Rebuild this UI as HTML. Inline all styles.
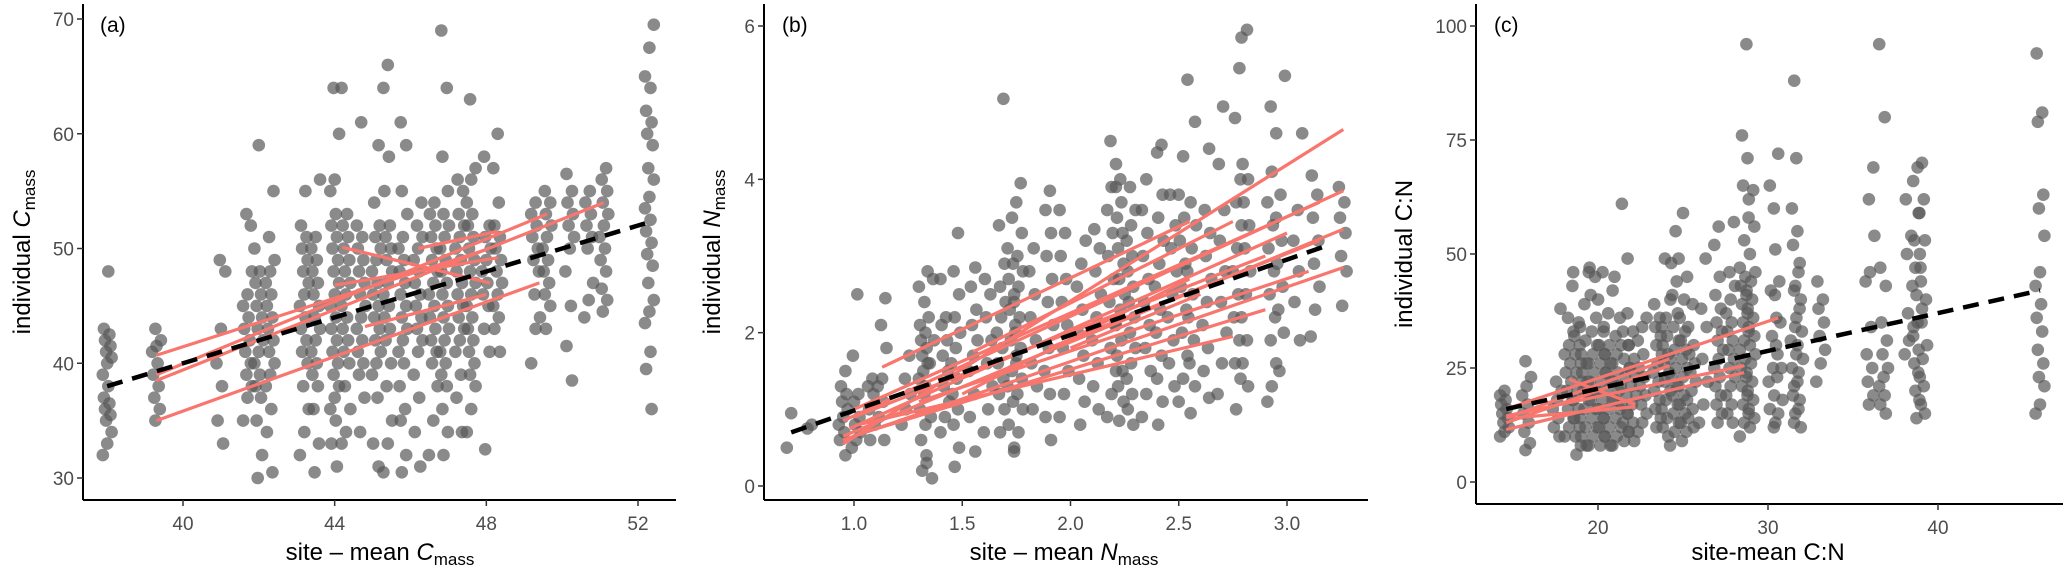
<!DOCTYPE html>
<html><head><meta charset="utf-8"><style>
body{margin:0;background:#fff}
svg{display:block;font-family:"Liberation Sans",Arial,sans-serif}
</style></head><body>
<svg id="chart" width="2067" height="566" viewBox="0 0 2067 566" xmlns="http://www.w3.org/2000/svg"></svg>
<script>
// ---------- Panel (a) data ----------
const aSiteX=[38.0,39.3,41.0,41.7,42.0,42.3,43.2,43.5,44.0,44.3,44.7,45.1,45.4,45.8,46.2,46.6,46.9,47.3,47.6,48.0,48.3,49.3,49.6,50.2,50.7,51.1,52.3];
const aSiteY=[[32,33,34,35,35.5,36,36.5,37,38,39,40,40.5,41,41.5,42,42.5,43,48],[35,36,37,38,39,40,41,41.5,42,43],[33,35,38,40,43,48,49],[35,37,38,39,40,41,42,43,44,45,46,48,53,52],[30,32,35,37,38,39,40,41,42,43,44,45,46,47,48,50,59],[30.5,34,36,38,39,40,41,42,43,44,45,46,47,48,49,51,55],[32,34,36,38,40,41,42,43,44,45,46,47,48,49,50,51,52,55],[30.5,33,36,38,39,40,41,42,43,44,45,46,47,48,49,50,51,56],[31,33,35,36,37,38,39,40,41,42,43,44,45,46,47,48,49,50,51,52,53,55,56,60,64],[33,34,36,38,40,41,42,43,44,45,46,47,48,49,50,51,52,53,64],[34,37,39,40,41,42,43,44,45,46,47,48,49,50,51,52,61],[31,33,37,39,40,41,42,43,44,45,46,47,48,49,50,51,52,54,59],[30.5,33,35,38,40,42,43,44,45,46,47,48,49,50,51,52,55,58,64,66],[30.5,32,35,36,38,40,41,42,43,44,45,46,47,48,49,50,51,53,55,59,61],[31,34,37,39,41,42,43,44,45,46,47,48,49,50,51,52,54],[32,35,38,40,41,42,43,44,45,46,47,48,49,50,51,52,53,54],[32,34,36,38,39,40,41,42,43,44,45,46,47,48,49,50,51,52,53,55,58,64,69],[34,37,39,41,42,43,44,45,46,47,48,49,50,51,52,53,55,56],[34,36,38,39,40,41,42,43,44,45,46,47,48,49,50,51,52,53,54,56,57,63],[32.5,41,43,45,46,47,48,49,50,51,52,58],[41,43,44,45,46,47,48,49,50,51,52,54,57,60],[40,43,44,46,48,49,50,51,52,53,54],[43,45,46,47,48,49,50,51,52,53,54,55],[38.5,41.5,45,48,50,51,52,53,54,55,56.5],[44,45.5,47,50,51,52,53,54,55],[44.5,45.5,46.5,48,49,50,51,52,53,54,55,56,57],[36,39.5,41,43.5,44.5,45.5,47,48.5,49.5,50.5,51.5,52.5,53.5,54.5,56,57,59,60,61,62,64,65,67.5,69.5]];
const aLines=[[39.3,40.7,48.0,49.9],[39.3,39.0,49.6,53.0],[39.3,38.5,51.1,54.0],[39.3,35.0,49.4,47.0],[44.2,50.1,48.1,47.0],[44.0,46.8,48.3,49.2],[44.8,43.2,48.0,46.0],[46.2,50.0,48.3,51.5]];
const aFit=[38.0,38.0,52.3,52.3];
const aXTicks=[40,44,48,52];
const aYTicks=[30,40,50,60,70];
// ---------- Panel (b) data ----------
const bSiteX=[0.71,0.79,0.95,1.01,1.08,1.13,1.24,1.32,1.35,1.42,1.47,1.55,1.62,1.68,1.73,1.76,1.83,1.90,1.97,2.05,2.12,2.19,2.23,2.28,2.35,2.41,2.47,2.52,2.56,2.63,2.70,2.77,2.81,2.93,2.97,3.05,3.13,3.26];
const bSiteY=[[0.5,0.95],[0.75,0.8],[0.4,0.6,0.7,0.8,0.9,1.0,1.1,1.2,1.3,1.5],[0.5,0.6,0.7,0.8,0.9,1.1,1.2,1.7,2.5],[0.6,0.8,1.0,1.2,1.3,1.4],[0.6,0.9,1.1,1.3,1.4,1.8,2.1,2.45],[0.8,1.0,1.2,1.4,1.7],[0.2,0.3,0.6,0.8,1.0,1.2,1.4,1.5,1.6,1.7,1.8,1.9,2.0,2.1,2.4,2.6],[0.1,0.4,0.9,1.3,1.6,1.9,2.2,2.7,2.8],[0.7,0.9,1.1,1.3,1.5,1.7,1.9,2.1,2.2,2.7],[0.25,0.5,0.8,1.0,1.2,1.4,1.6,1.8,2.0,2.2,2.5,2.8,3.3],[0.45,0.9,1.2,1.5,1.7,1.9,2.1,2.3,2.6,2.85],[0.7,1.0,1.3,1.6,1.9,2.2,2.5,2.7],[0.7,1.0,1.2,1.4,1.6,1.8,2.0,2.2,2.4,2.6,2.9,3.4,5.05],[0.5,0.8,1.1,1.3,1.5,1.7,1.9,2.1,2.3,2.5,2.7,2.9,3.1,3.5],[0.45,0.7,1.0,1.2,1.4,1.6,1.8,2.0,2.2,2.4,2.6,2.8,3.0,3.3,3.7,3.95],[1.0,1.3,1.6,1.9,2.2,2.5,2.8,3.1],[0.6,0.9,1.2,1.5,1.8,2.1,2.4,2.7,3.0,3.3,3.6,3.85],[0.9,1.2,1.5,1.8,2.1,2.4,2.7,3.0,3.3,3.6],[0.8,1.1,1.4,1.7,2.0,2.3,2.6,2.9,3.2],[1.0,1.3,1.6,1.9,2.2,2.5,2.8,3.1,3.35],[0.9,1.2,1.5,1.8,2.1,2.4,2.7,3.0,3.3,3.6,3.9,4.2,4.5],[0.85,1.1,1.3,1.5,1.7,1.9,2.1,2.3,2.5,2.7,2.9,3.1,3.3,3.5,3.7,3.9,4.0],[0.8,1.0,1.2,1.4,1.6,1.8,2.0,2.2,2.4,2.6,2.8,3.0,3.2,3.4,3.6,3.9],[0.9,1.2,1.5,1.8,2.1,2.4,2.7,3.0,3.3,3.6,4.0],[0.8,1.1,1.4,1.7,2.0,2.3,2.6,2.9,3.2,3.5,3.8,4.35,4.45],[1.3,1.6,1.9,2.2,2.5,2.8,3.1,3.4,3.8],[1.1,1.4,1.7,2.0,2.3,2.6,2.9,3.2,3.5,3.8,4.3,5.3],[0.95,1.3,1.6,1.9,2.2,2.5,2.8,3.1,3.4,3.7,4.75],[1.15,1.5,1.8,2.1,2.4,2.7,3.0,3.3,3.6,4.4],[1.2,1.6,2.0,2.4,2.8,3.2,3.6,4.2,4.95],[1.0,1.4,1.6,1.9,2.2,2.5,2.8,3.1,3.4,3.7,4.0,4.8,5.45],[1.3,1.6,1.9,2.2,2.5,2.8,3.1,3.4,3.7,4.0,4.2,5.95,5.85],[1.1,1.3,1.6,1.9,2.2,2.5,2.8,3.1,3.4,3.7,4.1,4.6,4.95],[1.5,2.0,2.3,2.6,2.9,3.2,3.5,3.8,5.35],[1.9,2.4,2.8,3.2,3.6,4.6],[1.95,2.3,2.6,2.9,3.2,3.5,3.8,4.05],[2.35,2.8,3.0,3.3,3.5,3.7,3.9]];
const bLines=[[1.13,1.55,2.55,3.45],[0.95,0.55,3.26,4.65],[0.95,0.85,3.26,3.85],[0.95,0.65,3.26,3.35],[0.95,0.6,3.26,2.85],[1.0,1.0,3.15,3.7],[1.02,0.8,2.75,1.95],[1.05,0.7,2.9,2.3],[1.3,1.1,3.1,2.8],[1.55,1.75,2.75,3.45],[1.0,0.9,2.9,3.0],[1.9,1.8,3.15,3.2],[1.5,1.2,2.55,2.7],[2.0,1.8,2.6,2.5],[0.98,0.75,3.0,3.3]];
const bFit=[0.71,0.7,3.2,3.15];
const bXTicks=[1.0,1.5,2.0,2.5,3.0];
const bYTicks=[0,2,4,6];
// ---------- Panel (c) data ----------
const cSiteX=[14.5,15.8,17.6,18.3,18.8,19.2,19.7,20.2,20.6,21.1,21.6,22.0,22.6,23.5,24.0,24.5,25.0,25.5,26.2,27.1,27.8,28.6,29.0,30.3,30.6,31.6,31.8,33.1,36.0,36.8,38.3,38.8,39.1,46.0];
const cSiteY=[[10,11,12,13,14,15,16,17,18,19,20],[7,8.5,11,13,15,17,19,21,23,26.5],[10,12,14,16,18,20,22,38],[10,12,14,16,18,20,22,24,26,28,30,33,36,43],[6,8,10,12,14,16,18,20,22,24,26,28,30,32,35,46],[8,10,12,14,16,18,20,22,24,26,28,31,34,39,46],[8,10,12,14,16,18,20,22,24,26,28,30,33,36,41,45,47],[8,10,12,14,16,18,20,22,24,26,28,30,33,40,46],[8,10,12,14,16,18,20,22,24,26,28,30,34,37,42],[8,10,12,14,16,18,20,22,24,26,28,30,32,36,45],[9,11,13,15,17,19,21,23,25,27,30,33,37,61],[9,11,13,15,17,19,21,23,25,27,30,33,49],[11,13,15,17,19,21,23,25,28,31,34,36],[12,14,16,18,20,22,24,26,28,30,32,34,36,39],[10,12,14,16,18,20,22,24,26,28,30,32,34,36,40,49],[8,11,13,15,17,19,21,23,25,27,29,31,34,37,41,44,48,55],[9,11,13,15,17,19,21,23,25,27,29,31,33,36,40,49,59],[12,14,16,18,20,22,24,26,28,30,34,39,45],[13,17,22,27,34,38,49],[13,15,17,19,21,23,25,27,29,31,33,35,38,41,45,52,56],[13,15,17,19,21,23,25,27,29,31,33,35,37,40,43,46,57],[10,13,15,17,19,21,23,25,27,29,31,33,35,37,39,41,43,45,47,53,58,65,71,76,96],[12,14,16,18,20,22,24,26,28,30,32,34,36,38,40,42,44,46,50,56,62,64],[13,16,19,22,25,28,32,36,42,51,65],[12,15,18,23,25,30,35,41,44,60,72],[13,16,19,22,25,28,31,34,38,42,46,52,55,60,71],[12,15,18,21,24,27,30,33,36,40,43,48,88],[22,26,29,32,35,38,40,44],[17,19,22,25,28,34,44,46,54,62,69],[15,17,19,21,23,25,28,31,35,43,47,80,96],[28,31,34,37,43,50,54,62],[14,17,20,23,26,29,32,35,38,41,44,47,50,53,59,66,69,70],[15,18,21,24,27,30,35,40,47,53,59,62],[15,17,21,23,26,29,33,36,39,43,46,54,60,63,79,81,94]];
const cLines=[[14.6,16.0,30.6,36.0],[14.6,14.0,24.2,27.0],[14.6,13.0,24.2,25.5],[14.6,11.5,28.6,24.0],[14.6,14.5,28.6,25.5],[15.0,14.0,22.2,16.5],[18.3,22.5,22.2,17.0]];
const cFit=[14.6,16.0,46.0,42.0];
const cXTicks=[20,30,40];
const cYTicks=[0,25,50,75,100];

const NS="http://www.w3.org/2000/svg";
const svg=document.getElementById('chart');
function mk(tag,attrs,parent){const e=document.createElementNS(NS,tag);for(const k in attrs)e.setAttribute(k,attrs[k]);(parent||svg).appendChild(e);return e;}

function panel(cfg){
  const g=mk('g',{});
  
  
  const sx=v=>cfg.x0px+(v-cfg.x0)*(cfg.x1px-cfg.x0px)/(cfg.x1-cfg.x0);
  const sy=v=>cfg.y0px+(v-cfg.y0)*(cfg.y1px-cfg.y0px)/(cfg.y1-cfg.y0);
  const pg=mk('g',{},g);
  
  
  cfg.siteX.forEach((xv,i)=>{cfg.siteY[i].forEach((yv,j)=>{
    const jit=(((j*4+i*3)%9)-4)*1.1;
    const c=mk('circle',{cx:(sx(xv)+jit).toFixed(1),cy:sy(yv).toFixed(1),r:6.3,fill:'#595959','fill-opacity':0.7},pg);
    
    
  });});
  cfg.lines.forEach(l=>{
    const ln=mk('line',{x1:sx(l[0]),y1:sy(l[1]),x2:sx(l[2]),y2:sy(l[3]),stroke:'#f8766d','stroke-width':3.2},g);
    
    
  });
  const f=cfg.fit;
  const fl=mk('line',{x1:sx(f[0]),y1:sy(f[1]),x2:sx(f[2]),y2:sy(f[3]),stroke:'#000','stroke-width':4.5,'stroke-dasharray':'16 10'},g);
  
  
  const ya=mk('line',{x1:cfg.axX,y1:4,x2:cfg.axX,y2:cfg.axY,stroke:'#000','stroke-width':2},g);
  
  
  const xa=mk('line',{x1:cfg.axX,y1:cfg.axY,x2:cfg.axR,y2:cfg.axY,stroke:'#000','stroke-width':2},g);
  
  
  cfg.xt.forEach(t=>{
    mk('line',{x1:sx(t),y1:cfg.axY,x2:sx(t),y2:cfg.axY+6,stroke:'#333','stroke-width':1.5},g);
    const tx=mk('text',{x:sx(t),y:cfg.axY+30,'text-anchor':'middle','font-size':19,fill:'#4d4d4d'},g);
    tx.textContent=cfg.xfmt(t);
    
    
  });
  cfg.yt.forEach(t=>{
    mk('line',{x1:cfg.axX-6,y1:sy(t),x2:cfg.axX,y2:sy(t),stroke:'#333','stroke-width':1.5},g);
    const tx=mk('text',{x:cfg.axX-9,y:sy(t)+7,'text-anchor':'end','font-size':19,fill:'#4d4d4d'},g);
    tx.textContent=String(t);
    
    
  });
  const pl=mk('text',{x:cfg.labX,y:32,'font-size':21,fill:'#000'},g);
  pl.textContent='('+cfg.id+')';
  
  
  const xt=mk('text',{x:cfg.xtX,y:560,'text-anchor':'middle','font-size':24,fill:'#000'},g);
  xt.innerHTML=cfg.xTitle;
  
  
  const yt=mk('text',{x:0,y:0,'text-anchor':'middle','font-size':24,fill:'#000',transform:'translate('+cfg.ytX+','+((4+cfg.axY)/2)+') rotate(-90)'},g);
  yt.innerHTML=cfg.yTitle;
  
  
}

panel({id:'a',siteX:aSiteX,siteY:aSiteY,lines:aLines,fit:aFit,xt:aXTicks,yt:aYTicks,
  x0:40,x1:52,x0px:183,x1px:638,y0:30,y1:70,y0px:478,y1px:19,axX:83,axY:500,axR:676,
  xfmt:v=>String(v),labX:100,xtX:380,ytX:30,
  xTitle:'site – mean <tspan font-style="italic">C</tspan><tspan font-size="17" dy="5">mass</tspan>',
  yTitle:'individual <tspan font-style="italic">C</tspan><tspan font-size="17" dy="5">mass</tspan>'});
panel({id:'b',siteX:bSiteX,siteY:bSiteY,lines:bLines,fit:bFit,xt:bXTicks,yt:bYTicks,
  x0:1,x1:3,x0px:854,x1px:1287,y0:0,y1:6,y0px:486,y1px:26,axX:764,axY:500,axR:1368,
  xfmt:v=>v.toFixed(1),labX:782,xtX:1064,ytX:720,
  xTitle:'site – mean <tspan font-style="italic">N</tspan><tspan font-size="17" dy="5">mass</tspan>',
  yTitle:'individual <tspan font-style="italic">N</tspan><tspan font-size="17" dy="5">mass</tspan>'});
panel({id:'c',siteX:cSiteX,siteY:cSiteY,lines:cLines,fit:cFit,xt:cXTicks,yt:cYTicks,
  x0:20,x1:40,x0px:1598,x1px:1938,y0:0,y1:100,y0px:482,y1px:26,axX:1476,axY:504,axR:2063,
  xfmt:v=>String(v),labX:1494,xtX:1768,ytX:1412,
  xTitle:'site-mean C:N',yTitle:'individual C:N'});
</script>
</body></html>
